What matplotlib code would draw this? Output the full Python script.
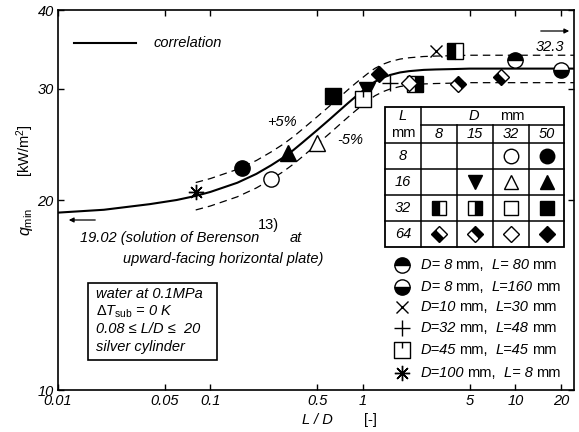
import numpy as np
import matplotlib
matplotlib.use('Agg')
import matplotlib.pyplot as plt
from matplotlib.markers import MarkerStyle
from matplotlib.path import Path
from matplotlib.transforms import Affine2D
from matplotlib.ticker import NullLocator

plt.rcParams['font.family'] = 'Liberation Sans'
plt.rcParams['mathtext.fontset'] = 'custom'
plt.rcParams['mathtext.rm'] = 'Liberation Sans'
plt.rcParams['mathtext.it'] = 'Liberation Sans:italic'

# correlation curve
corr_ld = [0.01, 0.02, 0.04, 0.06, 0.08, 0.1, 0.15, 0.2, 0.25, 0.3, 0.35, 0.4,
           0.5, 0.6, 0.7, 0.8, 0.9, 1.0, 1.1, 1.2, 1.35, 1.5, 1.75, 2.0, 2.5,
           3.0, 4.0, 5.0, 10.0, 25.0]
corr_q = [19.1, 19.3, 19.7, 20.0, 20.3, 20.6, 21.3, 22.0, 22.7, 23.35, 24.0, 24.65,
          25.8, 26.8, 27.7, 28.5, 29.2, 29.8, 30.35, 30.8, 31.25, 31.55, 31.85, 32.0, 32.15,
          32.2, 32.25, 32.3, 32.3, 32.3]
band = 0.05          # +-5 % lines
band_from = 0.08     # dashed lines start here

# measured points (L/D, q_min) and their symbol
pt_ld = [0.08, 0.16, 0.25, 0.32, 0.5, 0.64, 1.07, 1.0, 1.28, 1.5, 2.2, 2.0,
         4.2, 3.0, 4.0, 8.0, 10.0, 20.0]
pt_q = [20.6, 22.5, 21.6, 23.7, 24.6, 29.2, 29.9, 28.9, 31.7, 30.7, 30.5, 30.6,
        30.5, 34.4, 34.4, 31.3, 33.3, 32.1]
pt_kind = ['star', 'circle_full', 'circle_open', 'tri_full', 'tri_open',
           'square_full', 'tri_down', 'square_tick', 'diamond_full', 'plus',
           'square_right', 'diamond_open', 'diamond_right', 'cross',
           'square_left', 'diamond_left', 'circle_top', 'circle_bottom']

x_ticks = [0.01, 0.05, 0.1, 0.5, 1, 5, 10, 20]
x_labels = ['0.01', '0.05', '0.1', '0.5', '1', '5', '10', '20']
y_ticks = [10, 20, 30, 40]
y_labels = ['10', '20', '30', '40']

# symbol table
table_D = ['8', '15', '32', '50']
table_L = ['8', '16', '32', '64']
table_kind = [[None, None, 'circle_open', 'circle_full'],
              [None, 'tri_down', 'tri_open', 'tri_full'],
              ['square_left', 'square_right', 'square_open', 'square_full'],
              ['diamond_left', 'diamond_right', 'diamond_open', 'diamond_full']]

# extra symbols
legend_kind = ['circle_top', 'circle_bottom', 'cross', 'plus', 'square_tick', 'star']
legend_D = [' 8', ' 8', '10', '32', '45', '100']
legend_L = [' 80', '160', '30', '48', '45', ' 8']

FS = 10.5
rot45 = Affine2D().rotate_deg(45)
tick_square = Path([(-1, -1), (1, -1), (1, 1), (-1, 1), (-1, -1), (0, 1), (0, 0.2)],
                   [Path.MOVETO, Path.LINETO, Path.LINETO, Path.LINETO,
                    Path.CLOSEPOLY, Path.MOVETO, Path.LINETO])

shapes = {
    'circle': ('o', None, 11),
    'tri': ('^', None, 11),
    'square': ('s', None, 11),
    'diamond': ('s', rot45, 8.3),
}


def marker_kw(kind, scale=1.0):
    kw = dict(linestyle='none', mec='black', mfc='black', mew=1.0,
              markerfacecoloralt='white')
    if kind == 'cross':
        kw.update(marker='x', ms=9 * scale)
        return kw
    if kind == 'plus':
        kw.update(marker='+', ms=11 * scale)
        return kw
    if kind == 'star':
        kw.update(marker=(8, 2, 0), ms=11 * scale)
        return kw
    if kind == 'square_tick':
        kw.update(marker=tick_square, mfc='white', ms=11 * scale)
        return kw
    if kind == 'tri_down':
        kw.update(marker='v', ms=11 * scale)
        return kw
    shape, fill = kind.split('_')
    m, tr, size = shapes[shape]
    fs = 'full'
    if fill == 'open':
        kw['mfc'] = 'white'
    elif fill in ('left', 'right', 'top', 'bottom'):
        fs = fill
    kw.update(marker=MarkerStyle(m, fillstyle=fs, transform=tr), ms=size * scale)
    return kw


fig = plt.figure(figsize=(5.79, 4.32), dpi=100)
ax = fig.add_axes([58 / 579, 42 / 432, 516 / 579, 380 / 432])
ax.set_xscale('log')
ax.set_yscale('log')
ax.set_xlim(0.01, 24.2)
ax.set_ylim(10, 40)

ld = np.array(corr_ld)
q = np.array(corr_q)
ax.plot(ld, q, color='black', lw=1.5, zorder=2)
sel = ld >= band_from
ax.plot(ld[sel], q[sel] * (1 + band), color='black', lw=0.9, dashes=(6, 4), zorder=2)
ax.plot(ld[sel], q[sel] * (1 - band), color='black', lw=0.9, dashes=(6, 4), zorder=2)

for x, y, k in zip(pt_ld, pt_q, pt_kind):
    ax.plot([x], [y], zorder=3, **marker_kw(k))

ax.set_xticks(x_ticks)
ax.set_xticklabels(x_labels, style='italic', fontsize=FS)
ax.set_yticks(y_ticks)
ax.set_yticklabels(y_labels, style='italic', fontsize=FS)
ax.xaxis.set_minor_locator(NullLocator())
ax.yaxis.set_minor_locator(NullLocator())
ax.tick_params(direction='in', top=True, right=True, length=4, width=1, pad=3)
for s in ax.spines.values():
    s.set_linewidth(1.2)

# overlay in pixel units for the annotations
ov = fig.add_axes([0, 0, 1, 1], zorder=5)
ov.set_xlim(0, 579)
ov.set_ylim(432, 0)
ov.axis('off')

ov.plot([74, 136], [43, 43], color='black', lw=1.5)
ov.text(154, 43, 'correlation', style='italic', fontsize=FS, va='center')
ov.text(282, 122, '+5%', style='italic', fontsize=FS, ha='center', va='center')
ov.text(350, 140, '-5%', style='italic', fontsize=FS, ha='center', va='center')

ov.annotate('', xy=(572, 31), xytext=(538, 31),
            arrowprops=dict(arrowstyle='-|>', color='black', lw=0.9, mutation_scale=7))
ov.text(550, 47, '32.3', style='italic', fontsize=FS, ha='center', va='center')

ov.annotate('', xy=(66, 220), xytext=(98, 220),
            arrowprops=dict(arrowstyle='-|>', color='black', lw=0.9, mutation_scale=7))
ov.text(80, 238, '19.02 (solution of Berenson', style='italic', fontsize=FS, va='center')
ov.text(258, 225, '13)', fontsize=FS, va='center')
ov.text(290, 238, 'at', style='italic', fontsize=FS, va='center')
ov.text(123, 259, 'upward-facing horizontal plate)', style='italic', fontsize=FS, va='center')

# condition box
ov.add_patch(plt.Rectangle((88, 283), 129, 77, fill=False, ec='black', lw=1.2))
box_lines = ['water at 0.1MPa', r'$\Delta T_{\rm sub}$ = 0 K',
             '0.08 \u2264 L/D \u2264  20', 'silver cylinder']
for i, s in enumerate(box_lines):
    ov.text(96, 294 + 17.7 * i, s, style='italic', fontsize=FS, va='center')

# axis labels
ov.text(25, 151, r'[kW/m$^2$]', fontsize=FS, rotation=90, ha='center', va='center')
ov.text(27, 222, r'$q_{\rm min}$', fontsize=FS + 1, rotation=90, ha='center', va='center')
ov.text(317, 420, 'L / D', style='italic', fontsize=FS, ha='center', va='center')
ov.text(370, 420, '[-]', fontsize=FS, ha='center', va='center')

# symbol table
cols = [385, 421, 457, 493, 529, 564]
rows = [107, 125, 143, 169, 195, 221, 247]
ov.add_patch(plt.Rectangle((cols[0], rows[0]), cols[-1] - cols[0], rows[-1] - rows[0],
                           fill=False, ec='black', lw=1.3))
ov.plot([cols[1], cols[1]], [rows[0], rows[-1]], color='black', lw=1.1)
ov.plot([cols[1], cols[-1]], [rows[1], rows[1]], color='black', lw=1.1)
for c in cols[2:-1]:
    ov.plot([c, c], [rows[1], rows[-1]], color='black', lw=1.1)
for r in rows[2:-1]:
    ov.plot([cols[0], cols[-1]], [r, r], color='black', lw=1.1)
ov.text(403, 116, 'L', style='italic', fontsize=FS, ha='center', va='center')
ov.text(403, 133, 'mm', fontsize=FS, ha='center', va='center')
ov.text(474, 116, 'D', style='italic', fontsize=FS, ha='center', va='center')
ov.text(512, 116, 'mm', fontsize=FS, ha='center', va='center')
for j, d in enumerate(table_D):
    ov.text((cols[j + 1] + cols[j + 2]) / 2, 134, d, style='italic', fontsize=FS,
            ha='center', va='center')
for i, l in enumerate(table_L):
    yc = (rows[i + 2] + rows[i + 3]) / 2
    ov.text(403, yc, l, style='italic', fontsize=FS, ha='center', va='center')
    for j, k in enumerate(table_kind[i]):
        if k is None:
            continue
        ov.plot([(cols[j + 1] + cols[j + 2]) / 2], [yc], **marker_kw(k, 0.95))

# extra symbols
renderer = fig.canvas.get_renderer()
leg_y = [265, 287, 307, 328, 350, 373]
for k, d, l, y in zip(legend_kind, legend_D, legend_L, leg_y):
    ov.plot([402], [y], **marker_kw(k))
    x = 421
    for s, st, gap in [('D=' + d, 'italic', 3), ('mm,', 'normal', 8),
                       ('L=' + l, 'italic', 3), ('mm', 'normal', 0)]:
        t = ov.text(x, y, s, style=st, fontsize=FS, va='center')
        x += t.get_window_extent(renderer).width + gap

fig.savefig('out.png', dpi=100)
